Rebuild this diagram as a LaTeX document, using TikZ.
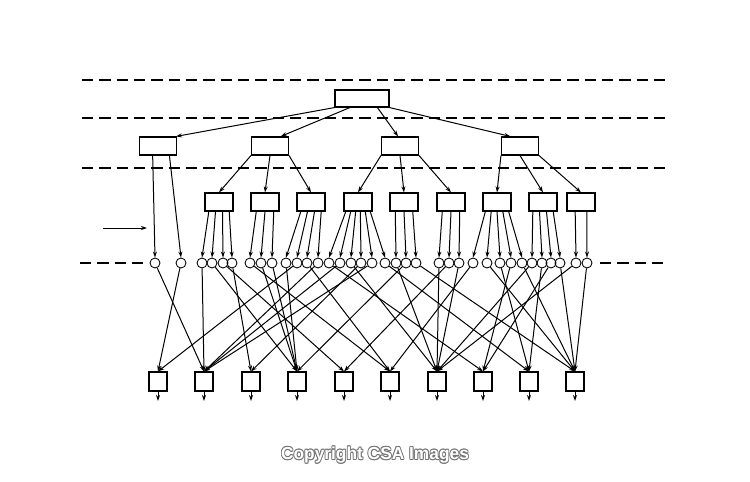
\documentclass[tikz,border=0pt]{standalone}
\usepackage{fontspec}
\setmainfont{Liberation Sans}
\usetikzlibrary{arrows.meta,calc}
\begin{document}
\begin{tikzpicture}[x=0.75pt,y=-0.75pt,
  box/.style={draw,line width=0.85pt,inner sep=0pt},
  topbox/.style={box,minimum width=40.5pt,minimum height=12.75pt},
  midbox/.style={box,minimum width=27.75pt,minimum height=13.5pt},
  lowbox/.style={box,minimum width=21pt,minimum height=13.5pt},
  outbox/.style={box,minimum width=13.5pt,minimum height=14.25pt},
  cell/.style={draw,circle,line width=0.65pt,minimum size=7.5pt,inner sep=0pt},
  arr/.style={line width=0.75pt,-{Stealth[length=4.5pt,width=3pt]}},
  guide/.style={line width=0.85pt,dash pattern=on 8.5pt off 4.5pt},
  cpy/.style={font=\bfseries\fontsize{13}{15}\selectfont}]
\useasboundingbox (0,0) rectangle (750,482);
% guide lines
\draw[guide] (82,80) -- (670,80);
\draw[guide] (82,118) -- (670,118);
\draw[guide] (82,168) -- (670,168);
\draw[guide] (80,263) -- (146,263);
\draw[guide] (600,263) -- (666,263);
% top
\node[topbox] (t) at (362,98.5) {};
% level 2
\foreach \i/\x in {1/158,2/270,3/400,4/520}
  \node[midbox] (m\i) at (\x,146) {};
% level 3
\foreach \i/\x in {1/219,2/265,3/311,4/358,5/404,6/451,7/497,8/543,9/581}
  \node[lowbox] (l\i) at (\x,202) {};
% bottom boxes
\foreach \i/\x in {1/158,2/204,3/251,4/297,5/344,6/390,7/437,8/483,9/529,10/575}{
  \node[outbox] (b\i) at (\x,381.5) {};
  \coordinate (o\i) at (\x,401);
  \draw[arr] (b\i.south) -- (o\i);
}
% top -> level 2
\draw[arr] (t.south west) -- ($(m1.north west)!0.97!(m1.north east)$);
\draw[arr] ($(t.south west)!0.28!(t.south east)$) -- ($(m2.north west)!0.78!(m2.north east)$);
\draw[arr] ($(t.south west)!0.78!(t.south east)$) -- ($(m3.north west)!0.45!(m3.north east)$);
\draw[arr] (t.south east) -- ($(m4.north west)!0.25!(m4.north east)$);
% level 2 -> level 3
\draw[arr] (m2.south west) -- (l1.north);
\draw[arr] (m2.south) -- (l2.north);
\draw[arr] (m2.south east) -- (l3.north);
\draw[arr] (m3.south west) -- (l4.north);
\draw[arr] (m3.south) -- (l5.north);
\draw[arr] (m3.south east) -- (l6.north);
\draw[arr] (m4.south west) -- (l7.north);
\draw[arr] (m4.south) -- (l8.north);
\draw[arr] (m4.south east) -- (l9.north);
% side input
\coordinate (in1) at (103,228);
\coordinate (in2) at (147,228);
\draw[arr] (in1) -- (in2);
% cells
\foreach \i/\x in {1/155,2/181,3/202,4/212,5/223,6/232,7/250,8/261,9/272,
  10/286,11/297,12/307,13/318,14/329,15/340,16/351,17/361,18/372,19/385,
  20/396,21/406,22/416,23/439,24/449,25/459,26/473,27/487,28/500,29/511,
  30/522,31/532,32/542,33/551,34/560,35/576,36/587}
  \node[cell] (c\i) at (\x,263) {};
% level-2 box 1 directly to cells
\draw[arr] ($(m1.south west)!0.36!(m1.south east)$) -- (c1.north);
\draw[arr] ($(m1.south west)!0.8!(m1.south east)$) -- (c2.north);
% level 3 -> cells
\foreach \i/\p/\f in {
  3/1/0.15, 4/1/0.38, 5/1/0.62, 6/1/0.85,
  7/2/0.2, 8/2/0.5, 9/2/0.8,
  10/3/0.15, 11/3/0.38, 12/3/0.62, 13/3/0.85,
  14/4/0.08, 15/4/0.25, 16/4/0.42, 17/4/0.58, 18/4/0.75, 19/4/0.92,
  20/5/0.2, 21/5/0.5, 22/5/0.8,
  23/6/0.2, 24/6/0.5, 25/6/0.8,
  26/7/0.1, 27/7/0.3, 28/7/0.5, 29/7/0.7, 30/7/0.9,
  31/8/0.15, 32/8/0.38, 33/8/0.62, 34/8/0.85,
  35/9/0.3, 36/9/0.7}
  \draw[arr] ($(l\p.south west)!\f!(l\p.south east)$) -- (c\i.north);
% cells -> output boxes
\foreach \i/\t in {1/2,2/1,3/2,4/4,5/5,6/3,7/6,8/4,9/4,10/4,11/1,12/6,13/2,
  14/8,15/2,16/7,17/3,18/2,19/9,20/7,21/4,22/10,23/7,24/5,25/7,26/6,27/10,
  28/9,29/8,30/10,31/7,32/9,33/8,34/10,35/7,36/10}
  \draw[arr] (c\i) -- (b\t.north);
% copyright (outlined)
\foreach \n/\dx/\dy in {a/-0.6/0,b/0.6/0,c/0/-0.6,d/0/0.6,e/-0.45/-0.45,f/0.45/0.45,g/-0.45/0.45,h/0.45/-0.45}
  \node[cpy,text=black!55] (cp\n) at ([xshift=\dx pt,yshift=\dy pt]375,455) {Copyright CSA Images};
\node[cpy,text=white] (cp) at (375,455) {Copyright CSA Images};
\end{tikzpicture}
\end{document}
